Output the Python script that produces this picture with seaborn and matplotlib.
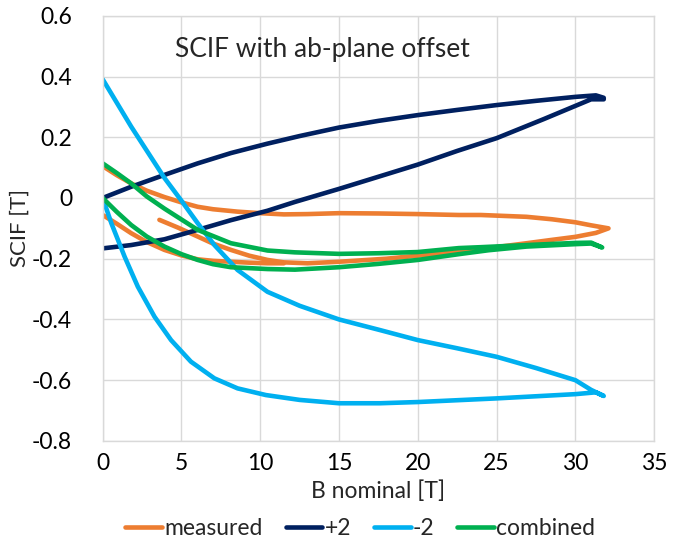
import numpy as np
import pandas as pd
import matplotlib
matplotlib.use("Agg")
import matplotlib.pyplot as plt
import seaborn as sns
from matplotlib.lines import Line2D

# ---- data ----
series_names = ["measured", "+2", "-2", "combined"]
colors = ["#ED7D31", "#002060", "#00B0F0", "#00B050"]

# measured: virgin + up ramp, then down ramp, then second up ramp start
meas_up_B = [3.6, 4.8, 6.03, 7.0, 8.14, 9.3, 10.46, 11.5, 13.0, 15.0, 18.0, 20.0, 22.6, 24.5, 26.9, 28.5, 30.0, 31.3, 32.1]
meas_up_S = [-0.072, -0.098, -0.127, -0.15, -0.171, -0.19, -0.204, -0.212, -0.215, -0.21, -0.2, -0.19, -0.178, -0.165, -0.149, -0.138, -0.128, -0.115, -0.1]
meas_dn_B = [32.1, 31.0, 30.0, 28.5, 26.9, 24.0, 22.6, 20.0, 17.5, 15.0, 13.0, 11.5, 10.0, 8.56, 7.0, 6.03, 4.97, 3.92, 2.8, 1.81, 0.9, 0.0]
meas_dn_S = [-0.1, -0.09, -0.08, -0.07, -0.062, -0.056, -0.056, -0.053, -0.051, -0.05, -0.053, -0.054, -0.05, -0.045, -0.037, -0.029, -0.014, 0.003, 0.024, 0.048, 0.075, 0.105]
meas_2_B = [0.0, 0.9, 1.81, 2.8, 3.92, 5.0, 6.03, 7.0, 8.14, 9.3, 10.46, 11.5]
meas_2_S = [-0.056, -0.085, -0.116, -0.145, -0.171, -0.189, -0.202, -0.207, -0.21, -0.213, -0.215, -0.215]

# +2
p2_up_B = [0.0, 1.81, 3.92, 6.03, 8.14, 10.46, 12.5, 15.0, 17.5, 20.0, 22.5, 25.0, 27.5, 30.0, 31.3, 31.8]
p2_up_S = [0.0, 0.037, 0.076, 0.114, 0.148, 0.179, 0.204, 0.232, 0.254, 0.273, 0.29, 0.306, 0.32, 0.333, 0.338, 0.33]
p2_dn_B = [31.8, 31.0, 28.0, 25.0, 22.5, 20.0, 17.5, 15.0, 12.2, 10.46, 8.14, 6.03, 3.92, 1.81, 0.0]
p2_dn_S = [0.325, 0.325, 0.26, 0.197, 0.155, 0.11, 0.07, 0.03, -0.013, -0.042, -0.073, -0.105, -0.136, -0.155, -0.166]

# -2
m2_up_B = [0.0, 0.55, 1.39, 2.23, 3.29, 4.34, 5.6, 7.09, 8.56, 10.36, 12.5, 15.0, 17.6, 20.0, 25.0, 30.0, 31.3, 31.8]
m2_up_S = [0.0, -0.083, -0.193, -0.292, -0.391, -0.468, -0.539, -0.594, -0.627, -0.649, -0.665, -0.676, -0.676, -0.672, -0.66, -0.646, -0.64, -0.652]
m2_dn_B = [31.8, 31.0, 30.0, 27.5, 25.0, 22.5, 20.0, 17.6, 15.0, 12.5, 10.46, 8.56, 7.09, 6.03, 4.97, 3.92, 1.81, 0.0]
m2_dn_S = [-0.652, -0.632, -0.6, -0.56, -0.523, -0.495, -0.468, -0.435, -0.40, -0.355, -0.309, -0.237, -0.155, -0.083, -0.007, 0.066, 0.235, 0.391]

# combined
cb_up_B = [0.0, 0.9, 1.81, 2.8, 3.92, 5.0, 6.03, 7.0, 8.14, 10.46, 12.2, 15.0, 17.5, 20.0, 22.6, 24.5, 26.9, 30.0, 31.0]
cb_up_S = [0.0, -0.046, -0.089, -0.127, -0.16, -0.185, -0.204, -0.218, -0.228, -0.234, -0.236, -0.228, -0.217, -0.204, -0.185, -0.172, -0.16, -0.152, -0.15]
cb_dn_B = [31.7, 31.0, 30.0, 26.9, 24.0, 22.6, 20.0, 17.5, 15.0, 12.2, 10.46, 8.14, 6.03, 3.92, 2.8, 1.81, 0.9, 0.0]
cb_dn_S = [-0.163, -0.147, -0.148, -0.155, -0.162, -0.165, -0.178, -0.182, -0.184, -0.179, -0.173, -0.149, -0.105, -0.035, 0.005, 0.048, 0.082, 0.114]

x_ticks = [0, 5, 10, 15, 20, 25, 30, 35]
y_ticks = [-0.8, -0.6, -0.4, -0.2, 0, 0.2, 0.4, 0.6]

# ---- build table ----
rows = []
def add(name, seg, B, S):
    for b, s in zip(B, S):
        rows.append(dict(series=name, seg=f"{name}_{seg}", B=b, S=s))

add("measured", 1, meas_up_B + meas_dn_B, meas_up_S + meas_dn_S)
add("measured", 2, meas_2_B, meas_2_S)
add("+2", 1, p2_up_B + p2_dn_B, p2_up_S + p2_dn_S)
add("-2", 1, m2_up_B + m2_dn_B, m2_up_S + m2_dn_S)
add("combined", 1, cb_up_B + cb_dn_B, cb_up_S + cb_dn_S)
df = pd.DataFrame(rows)

sns.set_theme(style="white")
plt.rcParams["font.family"] = ["Lato", "DejaVu Sans"]

fig = plt.figure(figsize=(6.8, 5.45), dpi=100)
ax = fig.add_axes([0.151, 0.191, 0.811, 0.78])

sns.lineplot(data=df, x="B", y="S", hue="series", units="seg", estimator=None,
             sort=False, palette=dict(zip(series_names, colors)),
             hue_order=series_names, linewidth=3.3, ax=ax, legend=False)
for ln in ax.get_lines():
    ln.set_solid_joinstyle("round")
    ln.set_solid_capstyle("round")

ax.set_xlim(0, 35)
ax.set_ylim(-0.8, 0.6)
ax.set_xticks(x_ticks)
ax.set_yticks(y_ticks)
ax.set_xticklabels([str(v) for v in x_ticks])
ax.set_yticklabels(["0" if v == 0 else f"{v:.1f}" for v in y_ticks])
ax.grid(True, color="#D9D9D9", linewidth=1)
ax.set_axisbelow(True)
for sp in ax.spines.values():
    sp.set_color("#D9D9D9")
    sp.set_linewidth(1)
ax.tick_params(axis="x", length=0, labelsize=16.5, colors="#000000", pad=9)
ax.tick_params(axis="y", length=0, labelsize=16.5, colors="#000000", pad=22)
ax.set_xlabel("B nominal [T]", fontsize=16.5, labelpad=4)
ax.set_ylabel("SCIF [T]", fontsize=16)
ax.yaxis.set_label_coords(-0.132, 0.5)

ax.text(4.6, 0.49, "SCIF with ab-plane offset", fontsize=19, va="center", ha="left")

handles = [Line2D([0], [0], color=c, lw=3.3) for c in colors]
fig.legend(handles, series_names, loc="lower center", bbox_to_anchor=(0.53, -0.027),
           ncol=4, frameon=False, fontsize=16.5, handlelength=1.6, handletextpad=0.1,
           columnspacing=1.0)

fig.savefig("out.png", dpi=100)
